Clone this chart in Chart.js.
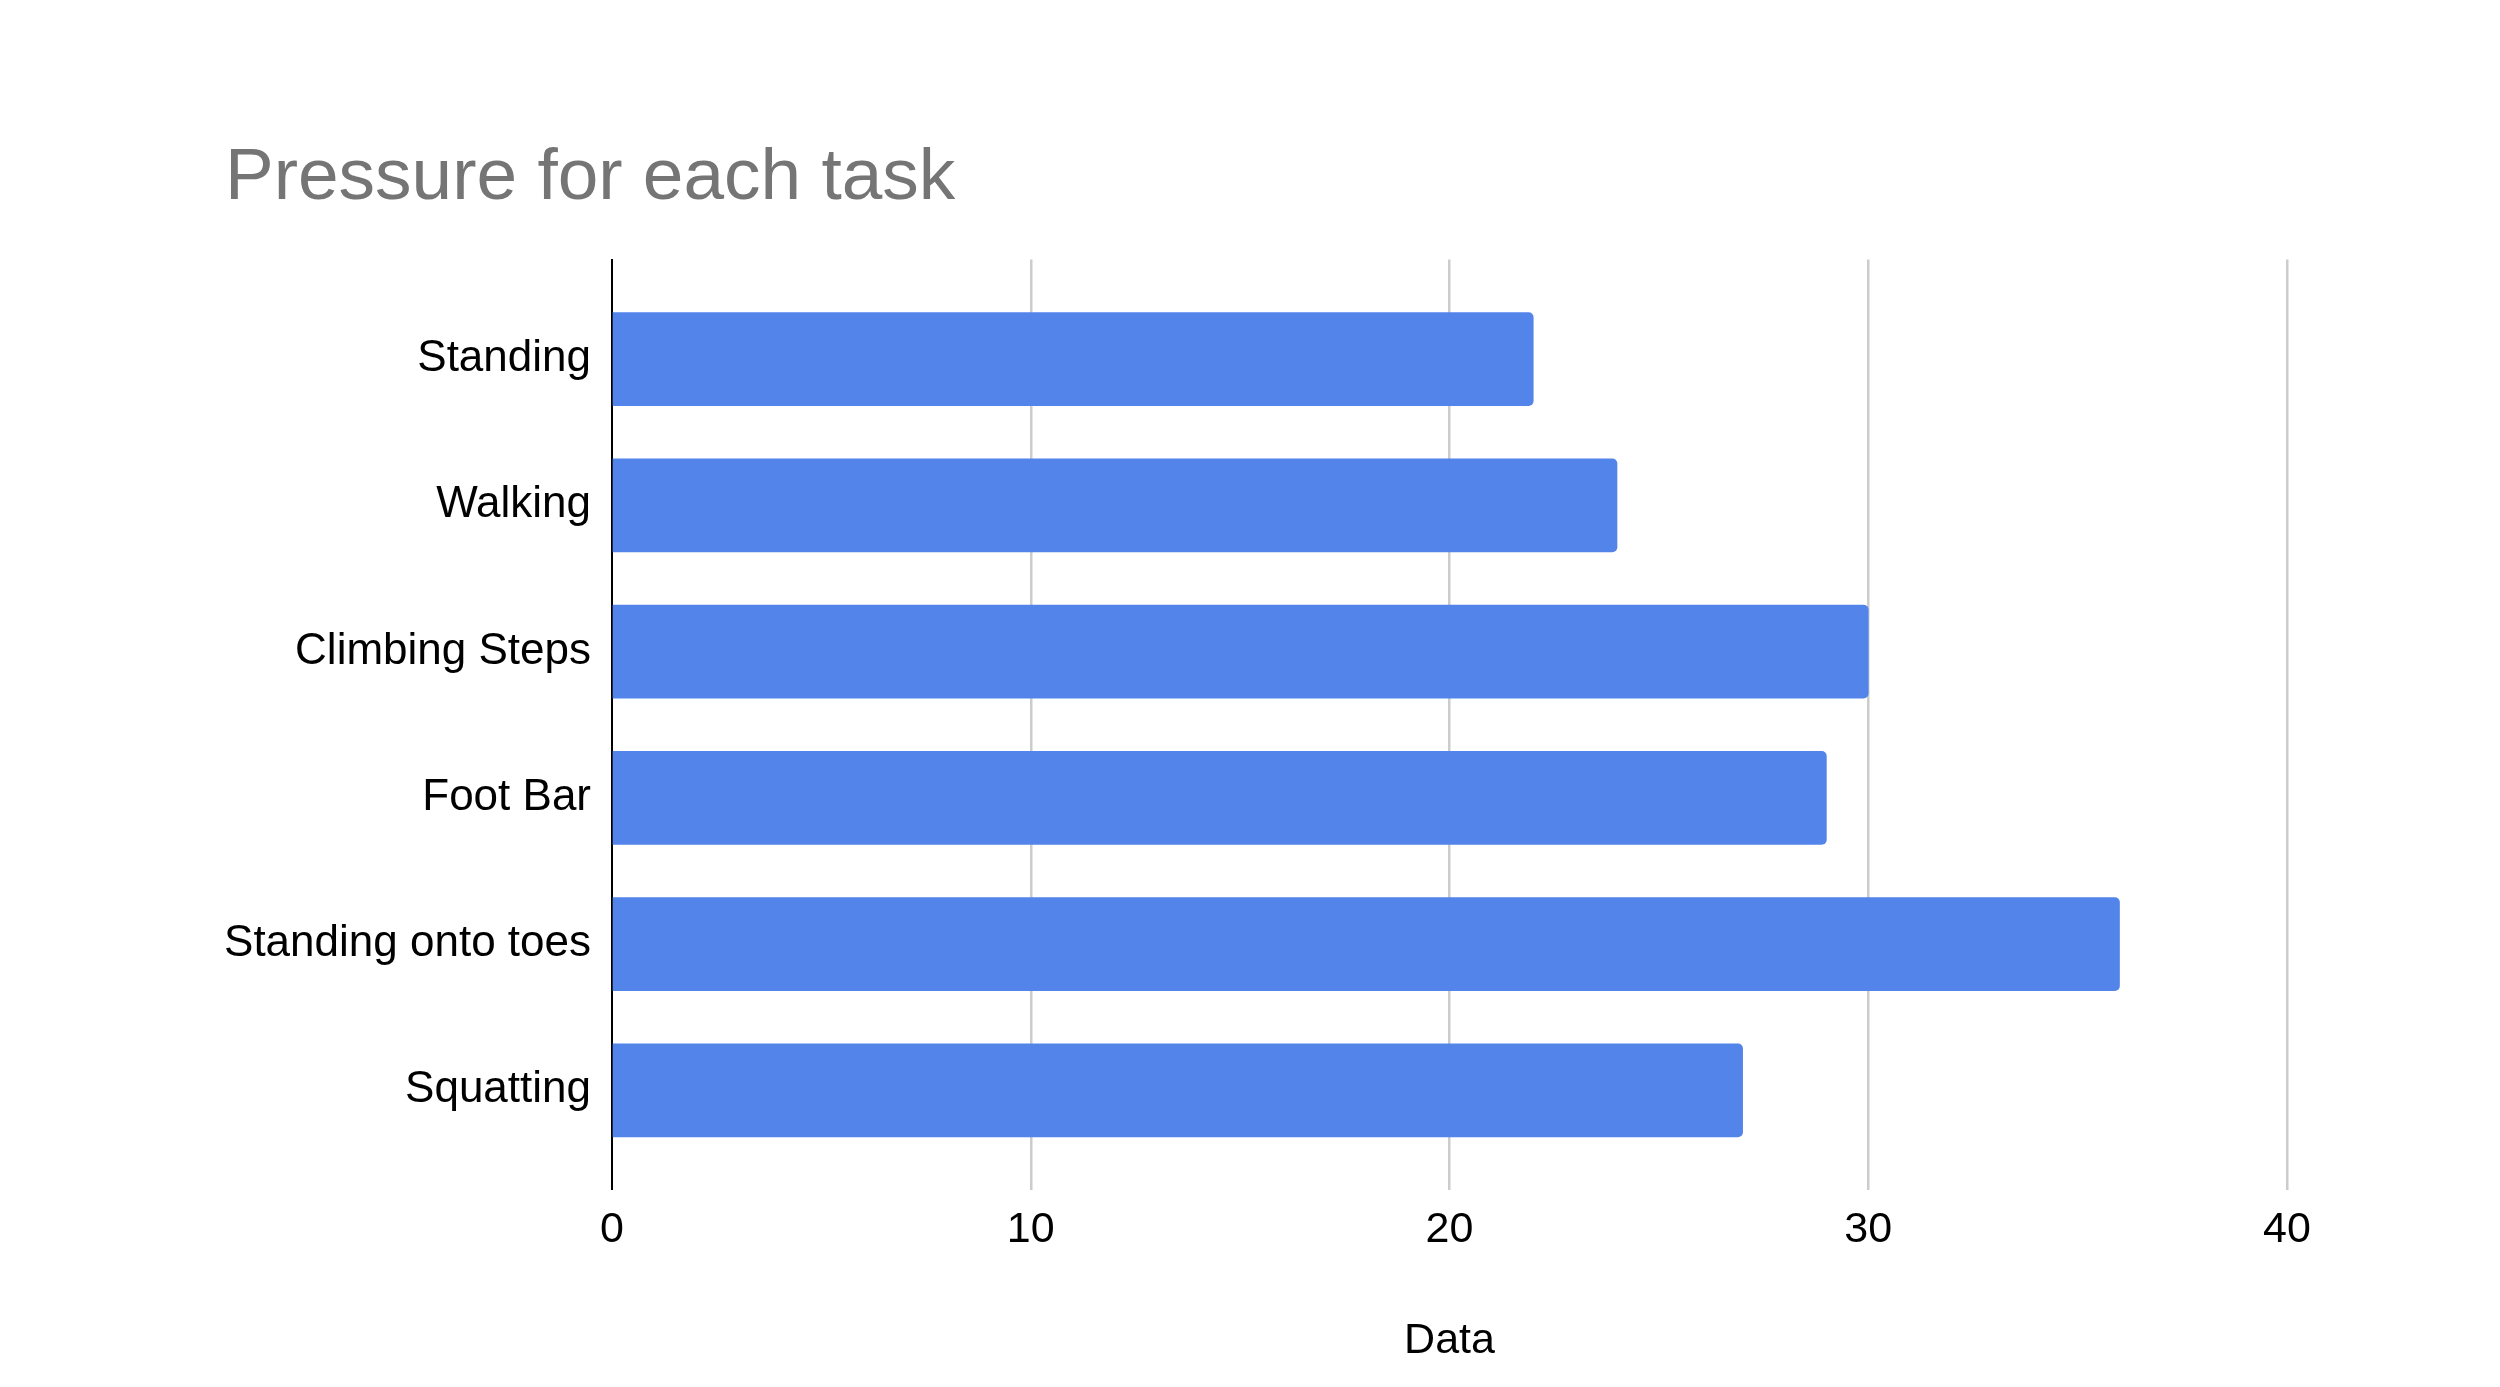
<!DOCTYPE html>
<html>
<head>
<meta charset="utf-8">
<script src="https://cdn.jsdelivr.net/npm/chart.js@4"></script>
<style>
  html, body { margin: 0; padding: 0; background: #fff; }
  #wrap { width: 2500px; height: 1387px; }
</style>
</head>
<body>
<div id="wrap"><canvas id="chart" width="2500" height="1387"></canvas></div>
<script>
// chart data
const tasks = ['Standing', 'Walking', 'Climbing Steps', 'Foot Bar', 'Standing onto toes', 'Squatting'];
const pressure = [22, 24, 30, 29, 36, 27];
const xTicks = [0, 10, 20, 30, 40];

const FONT = "'Liberation Sans', Arial, sans-serif";

const ctx = document.getElementById('chart').getContext('2d');
new Chart(ctx, {
	type: 'bar',
	data: {
		datasets: [{
			label: 'Data',
			data: pressure.map((v, i) => ({ x: v, y: i })),
			backgroundColor: '#5384ea',
			borderWidth: 0,
			borderRadius: 5,
			borderSkipped: 'start',
			barThickness: 93
		}]
	},
	options: {
		indexAxis: 'y',
		responsive: false,
		animation: false,
		layout: { padding: { left: 225, right: 213, top: 135, bottom: 20 } },
		plugins: {
			legend: { display: false },
			tooltip: { enabled: false },
			title: {
				display: true,
				text: 'Pressure for each task',
				align: 'start',
				color: '#757575',
				font: { family: FONT, size: 73, weight: 'normal' },
				padding: { top: 0, bottom: 37 }
			}
		},
		scales: {
			x: {
				type: 'linear',
				min: xTicks[0],
				max: xTicks[xTicks.length - 1],
				afterBuildTicks: s => { s.ticks = xTicks.map(v => ({ value: v })); },
				grid: {
					color: c => c.tick && c.tick.value === 0 ? '#000' : '#cccccc',
					lineWidth: c => c.tick && c.tick.value === 0 ? 2 : 2.5,
					drawTicks: false
				},
				border: { display: false },
				ticks: { color: '#000', font: { family: FONT, size: 43 }, padding: 15 },
				title: {
					display: true,
					text: 'Data',
					color: '#000',
					font: { family: FONT, size: 43 },
					padding: { top: 44, bottom: 0 }
				}
			},
			y: {
				type: 'linear',
				reverse: true,
				offset: false,
				min: -0.68,
				max: tasks.length - 1 + 0.68,
				afterBuildTicks: s => { s.ticks = tasks.map((_, i) => ({ value: i })); },
				afterFit: s => { s.width = 612 - 225; },
				grid: { display: false, drawTicks: false },
				border: { color: '#000', width: 2 },
				ticks: {
					color: '#000',
					font: { family: FONT, size: 44 },
					padding: 21,
					callback: v => tasks[v] ?? ''
				}
			}
		}
	}
});
</script>
</body>
</html>
